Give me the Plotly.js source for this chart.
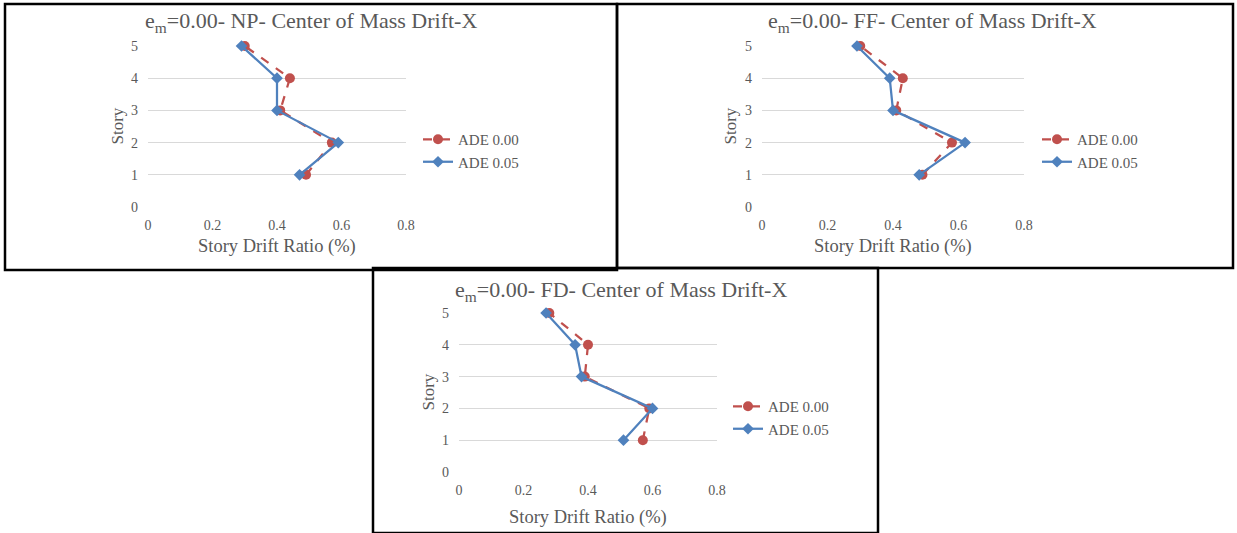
<!DOCTYPE html>
<html><head><meta charset="utf-8">
<script src="https://cdn.plot.ly/plotly-3.0.1.min.js"></script>
<style>html,body{margin:0;padding:0;background:#fff;}#chart{width:1237px;height:533px;}</style>
</head><body><div id="chart"></div>
<script>
const stories = [1, 2, 3, 4, 5];
const seriesNames = ["ADE 0.00", "ADE 0.05"];
const np_ade000 = [0.49, 0.57, 0.41, 0.44, 0.30];
const np_ade005 = [0.47, 0.59, 0.40, 0.40, 0.29];
const ff_ade000 = [0.49, 0.58, 0.41, 0.43, 0.30];
const ff_ade005 = [0.48, 0.62, 0.40, 0.39, 0.29];
const fd_ade000 = [0.57, 0.59, 0.39, 0.40, 0.28];
const fd_ade005 = [0.51, 0.60, 0.38, 0.36, 0.27];
const panelTitles = ["e<sub>m</sub>=0.00- NP- Center of Mass Drift-X",
                     "e<sub>m</sub>=0.00- FF- Center of Mass Drift-X",
                     "e<sub>m</sub>=0.00- FD- Center of Mass Drift-X"];
const xTitle = "Story Drift Ratio (%)";
const yTitle = "Story";
const xTicks = [0, 0.2, 0.4, 0.6, 0.8];
const yTicks = [0, 1, 2, 3, 4, 5];

const W = 1237, H = 533;
const px = v => v / W;
const py = v => 1 - v / H;
const RED = "#C0504D", BLUE = "#4F81BD", TXT = "#595959";
const FONT = "'Liberation Serif', 'Times New Roman', serif";

const panels = [
  {x0:148, x1:406, yt:46, yb:207, data:[np_ade000, np_ade005], legX:418, legY:123, tx:311, ty:22, axy:247, sx:117, box:[5,4,617,270]},
  {x0:762, x1:1024, yt:46, yb:207, data:[ff_ade000, ff_ade005], legX:1037, legY:123, tx:932, ty:22, axy:247, sx:730, box:[617,4,1233,268]},
  {x0:459, x1:717, yt:313, yb:472, data:[fd_ade000, fd_ade005], legX:728, legY:390, tx:621, ty:291, axy:517, sx:428, box:[373,268,878,533]}
];

const traces = [];
const layout = {
  width: W, height: H, margin:{l:0,r:0,t:0,b:0},
  paper_bgcolor:"#fff", plot_bgcolor:"rgba(0,0,0,0)",
  font:{family:FONT, color:TXT, size:14},
  annotations:[], shapes:[]
};

panels.forEach((p, i) => {
  const n = i + 1;
  const xa = n === 1 ? "x" : "x" + n, ya = n === 1 ? "y" : "y" + n;
  const legName = n === 1 ? "legend" : "legend" + n;
  traces.push({x: p.data[0], y: stories, type:"scatter", mode:"lines+markers", name: seriesNames[0],
    xaxis: xa, yaxis: ya, legend: legName, cliponaxis:false,
    line:{color:RED, width:2.25, dash:"dash"}, marker:{symbol:"circle", size:10, color:RED}});
  traces.push({x: p.data[1], y: stories, type:"scatter", mode:"lines+markers", name: seriesNames[1],
    xaxis: xa, yaxis: ya, legend: legName, cliponaxis:false,
    line:{color:BLUE, width:2.25}, marker:{symbol:"diamond", size:9, color:BLUE}});
  layout["xaxis" + (n===1?"":n)] = {domain:[px(p.x0), px(p.x1)], anchor: ya, range:[0,0.8], tickvals:xTicks,
    ticktext: xTicks.map(v => String(v)), showgrid:false, zeroline:false, showline:false, ticks:"", ticklen:0,
    ticklabelstandoff:8, tickfont:{family:FONT, size:14, color:TXT}, fixedrange:true};
  layout["yaxis" + (n===1?"":n)] = {domain:[py(p.yb), py(p.yt)], anchor: xa, range:[0,5], tickvals:yTicks,
    showgrid:true, gridcolor:"#D9D9D9", gridwidth:1, zeroline:false, showline:false,
    ticks:"", ticklen:0, ticklabelstandoff:9, tickfont:{family:FONT, size:14, color:TXT}, fixedrange:true};
  layout[legName] = {x: px(p.legX), y: py(p.legY), xanchor:"left", yanchor:"top",
    bgcolor:"rgba(0,0,0,0)", font:{family:FONT, size:15, color:TXT}, tracegroupgap:0, itemwidth:30};
  layout.annotations.push({text: panelTitles[i], xref:"paper", yref:"paper", x: px(p.tx), y: py(p.ty),
    xanchor:"center", yanchor:"middle", showarrow:false, font:{family:FONT, size:22, color:TXT}});
  layout.annotations.push({text: xTitle, xref:"paper", yref:"paper", x: px((p.x0+p.x1)/2), y: py(p.axy),
    xanchor:"center", yanchor:"middle", showarrow:false, font:{family:FONT, size:18.5, color:TXT}});
  layout.annotations.push({text: yTitle, xref:"paper", yref:"paper", x: px(p.sx), y: py((p.yt+p.yb)/2),
    xanchor:"center", yanchor:"middle", showarrow:false, textangle:-90, font:{family:FONT, size:17, color:TXT}});
  layout.shapes.push({type:"rect", xref:"paper", yref:"paper",
    x0: px(p.box[0]), x1: px(p.box[2]), y0: py(p.box[3]), y1: py(p.box[1]),
    line:{color:"#000", width:2.5}, fillcolor:"rgba(0,0,0,0)"});
});

Plotly.newPlot("chart", traces, layout, {displayModeBar:false, staticPlot:true});
</script></body></html>
